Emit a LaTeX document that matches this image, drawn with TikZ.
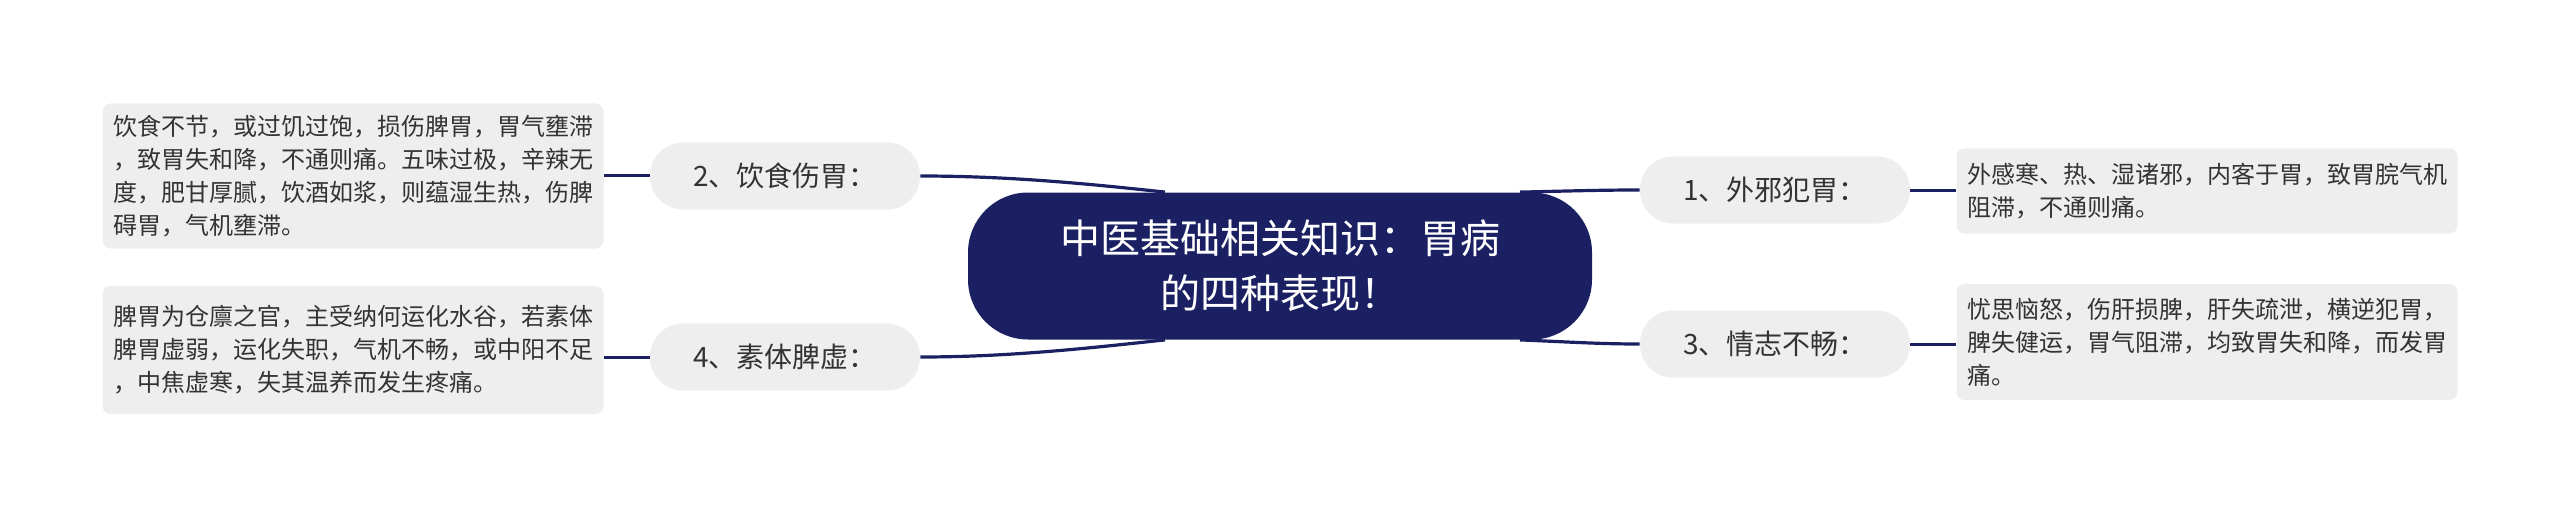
\documentclass[tikz,border=0pt]{standalone}
\usepackage{fontspec}
\setmainfont{Noto Sans CJK SC}

\definecolor{navy}{HTML}{1B2062}
\definecolor{pale}{HTML}{EEEEEE}
\definecolor{ink}{HTML}{333333}

\begin{document}
\begin{tikzpicture}[x=0.5pt,y=-0.5pt,
    root_node/.style={fill=navy,rounded corners=30pt,minimum width=312pt,minimum height=73.5pt,text=white,align=center,font=\fontsize{20pt}{27.5pt}\selectfont},
    branch_node/.style={fill=pale,rounded corners=16.5pt,minimum width=135pt,minimum height=33.5pt,text=ink,font=\fontsize{14pt}{17pt}\selectfont},
    leaf_node/.style={fill=pale,rounded corners=4pt,minimum width=250.5pt,text=ink,align=left,inner sep=5pt,font=\fontsize{12pt}{16.5pt}\selectfont},
    branch_edge/.style={navy,line width=1.6pt},
    leaf_edge/.style={navy,line width=1.5pt}]
  \useasboundingbox (0,0) rectangle (2560,519);
\node[root_node] (root) at (1280,266) {中医基础相关知识：胃病\\的四种表现！};
\node[branch_node] (b2) at (785,176) {2、饮食伤胃：};
\node[branch_node] (b4) at (785,357) {4、素体脾虚：};
\node[branch_node] (b1) at (1775,190) {1、外邪犯胃：};
\node[branch_node] (b3) at (1775,344) {3、情志不畅：};
\node[leaf_node,minimum height=72.5pt] (l2) at (353,176) {饮食不节，或过饥过饱，损伤脾胃，胃气壅滞\\，致胃失和降，不通则痛。五味过极，辛辣无\\度，肥甘厚腻，饮酒如浆，则蕴湿生热，伤脾\\碍胃，气机壅滞。};
\node[leaf_node,minimum height=64pt] (l4) at (353,350) {脾胃为仓廪之官，主受纳何运化水谷，若素体\\脾胃虚弱，运化失职，气机不畅，或中阳不足\\，中焦虚寒，失其温养而发生疼痛。};
\node[leaf_node,minimum height=42.5pt] (l1) at (2207,191) {外感寒、热、湿诸邪，内客于胃，致胃脘气机\\阻滞，不通则痛。};
\node[leaf_node,minimum height=58pt] (l3) at (2207,342) {忧思恼怒，伤肝损脾，肝失疏泄，横逆犯胃，\\脾失健运，胃气阻滞，均致胃失和降，而发胃\\痛。};
\coordinate (r_nw) at ([xshift=-57.5pt]root.north);
\coordinate (r_ne) at ([xshift=120pt]root.north);
\coordinate (r_sw) at ([xshift=-57.5pt]root.south);
\coordinate (r_se) at ([xshift=120pt]root.south);
\draw[branch_edge] (r_nw) .. controls (1090,184) and (1010,176) .. (b2.east);
\draw[branch_edge] (r_sw) .. controls (1090,348) and (1010,357) .. (b4.east);
\draw[branch_edge] (r_ne) .. controls (1570,191) and (1600,190) .. (b1.west);
\draw[branch_edge] (r_se) .. controls (1570,342) and (1600,344) .. (b3.west);
\draw[leaf_edge] (b2.west) -- (b2.west -| l2.east);
\draw[leaf_edge] (b4.west) -- (b4.west -| l4.east);
\draw[leaf_edge] (b1.east) -- (b1.east -| l1.west);
\draw[leaf_edge] (b3.east) -- (b3.east -| l3.west);
\end{tikzpicture}
\end{document}
